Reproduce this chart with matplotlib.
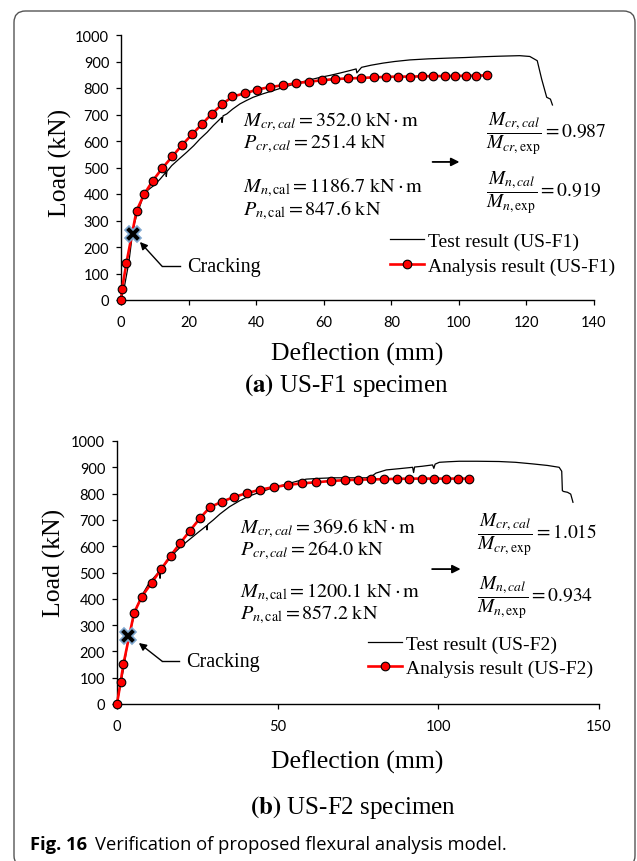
import matplotlib
matplotlib.use("Agg")
import matplotlib.pyplot as plt
from matplotlib.patches import FancyBboxPatch

plt.rcParams['font.family'] = ['Liberation Serif', 'DejaVu Serif']
plt.rcParams['mathtext.fontset'] = 'stix'

# ---- US-F1 data ----
f1_ana_d = [0, 0.3, 1.6, 4.6, 6.9, 9.4, 12.2, 15.2, 18.1, 21.1, 24.0, 26.9, 29.9, 33.0,
            36.8, 40.3, 44.2, 47.9, 51.8, 55.6, 59.5, 63.4, 67.3, 70.9, 74.8, 78.4, 82.0,
            85.5, 89.1, 92.4, 95.8, 98.9, 102.1, 105.2, 108.2]
f1_ana_p = [0, 40, 140, 337, 400, 450, 497, 542, 585, 626, 664, 703, 738, 768,
            780, 794, 804, 810, 818, 824, 829, 834, 836, 838, 840, 842, 843,
            843, 844, 845, 845, 846, 846, 847, 847.6]
f1_test_d = [0, 1.0, 2.3, 3.3, 4.0, 4.6, 5.5, 6.6, 8.0, 9.6, 11.5, 13.3, 13.4, 13.6, 15.0,
             17.0, 19.4, 21.5, 23.4, 25.5, 27.3, 29.8, 29.9, 30.2, 31.3, 33.0, 35.2, 37.0,
             39.1, 42.0, 45.0, 49.0, 53.0, 56.0, 58.9, 62.0, 65.0, 67.8, 69.6, 69.8, 71.2,
             74.0, 77.6, 81.0, 85.5, 91.0, 97.3, 102.0, 107.2, 112.0, 118.0, 121.0, 123.2,
             124.5, 126.0, 127.1, 127.7]
f1_test_p = [0, 50, 140, 240, 290, 318, 350, 394, 415, 431, 455, 482, 466, 485, 507,
             530, 557, 582, 608, 633, 658, 689, 670, 695, 702, 720, 740, 752,
             765, 778, 790, 806, 821, 831, 840, 848, 857, 866, 872, 857, 878,
             886, 894, 900, 906, 910, 913, 915, 918, 920, 922, 919, 903,
             834, 765, 758, 736]
f1_crack = (3.6, 249)

# ---- US-F2 data ----
f2_ana_d = [0, 1.1, 2.0, 5.3, 7.7, 10.8, 13.7, 16.7, 19.7, 22.7, 25.8, 28.9, 32.6, 36.4,
            40.5, 44.6, 48.9, 53.3, 57.5, 62.0, 66.5, 70.8, 75.0, 79.1, 83.2, 87.0, 91.0,
            94.9, 98.8, 102.4, 106.1, 109.6]
f2_ana_p = [0, 82, 152, 346, 408, 461, 512, 564, 612, 659, 706, 748, 769, 787,
            802, 815, 825, 833, 839, 843, 848, 851, 853, 854, 855, 856, 857,
            857, 857, 857, 857, 857.2]
f2_test_d = [0, 1.2, 2.3, 3.5, 5.0, 6.2, 7.7, 10.0, 13.3, 13.4, 13.6, 15.5, 17.5, 20.0,
             22.7, 25.3, 27.9, 28.0, 28.2, 30.0, 32.0, 35.0, 38.2, 41.0, 44.4, 48.5, 52.7,
             56.0, 58.9, 63.0, 67.2, 72.0, 77.5, 79.5, 80.6, 83.8, 88.0, 92.0, 92.3, 92.6,
             95.0, 98.2, 98.6, 99.0, 100.3, 103.0, 106.5, 112.0, 118.9, 124.0, 129.3, 134.0,
             137.6, 138.4, 138.6, 139.0, 140.2, 141.2, 141.9]
f2_test_p = [0, 80, 150, 250, 320, 370, 412, 460, 506, 478, 509, 540, 570, 600,
             627, 653, 678, 662, 682, 700, 722, 750, 773, 790, 805, 822, 836,
             847, 855, 858, 860, 860, 860, 868, 878, 890, 895, 900, 880, 901,
             904, 909, 896, 912, 919, 921, 923, 923, 922, 919, 913, 907,
             900, 885, 811, 808, 805, 798, 767]
f2_crack = (3.5, 260)

W, H = 637, 862
fig = plt.figure(figsize=(W / 100, H / 100), dpi=100)


def px_axes(l, r, t, b):
    return fig.add_axes([l / W, 1 - b / H, (r - l) / W, (b - t) / H])


def style_axes(ax, xmax, xstep):
    for s in ['top', 'right']:
        ax.spines[s].set_visible(False)
    for s in ['left', 'bottom']:
        ax.spines[s].set_linewidth(1.0)
    ax.set_xlim(0, xmax)
    ax.set_ylim(0, 1000)
    ax.set_xticks(range(0, xmax + 1, xstep))
    ax.set_yticks(range(0, 1001, 100))
    ax.tick_params(direction='out', length=3.5, width=0.9)
    ax.tick_params(axis='x', pad=7)
    ax.tick_params(axis='y', pad=5)
    for lab in ax.get_xticklabels() + ax.get_yticklabels():
        lab.set_fontfamily('Lato')
        lab.set_fontsize(10.5)
    ax.set_xlabel('Deflection (mm)', fontsize=18.5)
    ax.set_ylabel('Load (kN)', fontsize=18.5)


def draw_panel(ax, td, tp, ad, ap, crack, name):
    ax.plot(td, tp, color='black', lw=0.9, label='Test result (%s)' % name, zorder=3)
    ax.plot(ad, ap, color='red', lw=1.9, marker='o', ms=6.2, mfc='red', mec='black',
            mew=0.8, label='Analysis result (%s)' % name, zorder=4, clip_on=False)
    ax.plot([crack[0]], [crack[1]], marker='X', ms=12, mfc='black', mec='#7fa7cf',
            mew=1.2, zorder=6, clip_on=False)


ax1 = px_axes(121, 594, 36, 301)
style_axes(ax1, 140, 20)
draw_panel(ax1, f1_test_d, f1_test_p, f1_ana_d, f1_ana_p, f1_crack, 'US-F1')
ax1.yaxis.set_label_coords(-0.104, 0.52)
ax1.xaxis.set_label_coords(0.5, -0.158)

ax2 = px_axes(117, 599, 442, 705)
style_axes(ax2, 150, 50)
draw_panel(ax2, f2_test_d, f2_test_p, f2_ana_d, f2_ana_p, f2_crack, 'US-F2')
ax2.yaxis.set_label_coords(-0.106, 0.54)
ax2.xaxis.set_label_coords(0.499, -0.172)

mfs = 14.5
ffs = 14
# panel (a) annotations
ax1.text(36, 678, r'$M_{cr,cal}=352.0\ \mathrm{kN}\cdot\mathrm{m}$', fontsize=mfs, va='center')
ax1.text(36, 593, r'$P_{cr,cal}=251.4\ \mathrm{kN}$', fontsize=mfs, va='center')
ax1.text(36, 428, r'$M_{n,\mathrm{cal}}=1186.7\ \mathrm{kN}\cdot\mathrm{m}$', fontsize=mfs, va='center')
ax1.text(36, 342, r'$P_{n,\mathrm{cal}}=847.6\ \mathrm{kN}$', fontsize=mfs, va='center')
ax1.text(108, 630, r'$\dfrac{M_{cr,cal}}{M_{cr,\mathrm{exp}}}=0.987$', fontsize=ffs, va='center')
ax1.text(108, 408, r'$\dfrac{M_{n,cal}}{M_{n,\mathrm{exp}}}=0.919$', fontsize=ffs, va='center')
ax1.annotate('', xy=(101, 521), xytext=(91.4, 521),
             arrowprops=dict(arrowstyle='-|>', color='black', lw=1.3, mutation_scale=12))
ax1.plot([12.1, 17.6], [128, 128], color='black', lw=1.0)
ax1.annotate('', xy=(5.6, 219), xytext=(12.1, 128),
             arrowprops=dict(arrowstyle='-|>', color='black', lw=1.0, mutation_scale=11,
                             shrinkA=0, shrinkB=0))
ax1.text(19.5, 128, 'Cracking', fontsize=14.5, va='center')

# panel (b) annotations
ax2.text(38.2, 672, r'$M_{cr,cal}=369.6\ \mathrm{kN}\cdot\mathrm{m}$', fontsize=mfs, va='center')
ax2.text(38.2, 586, r'$P_{cr,cal}=264.0\ \mathrm{kN}$', fontsize=mfs, va='center')
ax2.text(38.2, 427, r'$M_{n,\mathrm{cal}}=1200.1\ \mathrm{kN}\cdot\mathrm{m}$', fontsize=mfs, va='center')
ax2.text(38.2, 345, r'$P_{n,\mathrm{cal}}=857.2\ \mathrm{kN}$', fontsize=mfs, va='center')
ax2.text(112, 646, r'$\dfrac{M_{cr,cal}}{M_{cr,\mathrm{exp}}}=1.015$', fontsize=ffs, va='center')
ax2.text(112, 407, r'$\dfrac{M_{n,cal}}{M_{n,\mathrm{exp}}}=0.934$', fontsize=ffs, va='center')
ax2.annotate('', xy=(107.8, 513), xytext=(97.2, 513),
             arrowprops=dict(arrowstyle='-|>', color='black', lw=1.3, mutation_scale=12))
ax2.plot([14, 19.3], [163, 163], color='black', lw=1.0)
ax2.annotate('', xy=(6.8, 232), xytext=(14, 163),
             arrowprops=dict(arrowstyle='-|>', color='black', lw=1.0, mutation_scale=11,
                             shrinkA=0, shrinkB=0))
ax2.text(21.4, 163, 'Cracking', fontsize=14.5, va='center')

for ax, bx, by in [(ax1, 0.569, 0.255), (ax2, 0.521, 0.262)]:
    ax.legend(loc='upper left', bbox_to_anchor=(bx, by), frameon=False, fontsize=14,
              handlelength=1.75, handletextpad=0.2, labelspacing=0.35, borderpad=0,
              borderaxespad=0)

# sub-captions
fig.text(346 / W, 1 - 386 / H, r'$\mathbf{(a)}$ US-F1 specimen', fontsize=18, ha='center', va='center')
fig.text(353 / W, 1 - 808 / H, r'$\mathbf{(b)}$ US-F2 specimen', fontsize=18, ha='center', va='center')

# figure caption
cap_fs = 13.2
t1 = fig.text(30 / W, 1 - 845 / H, 'Fig. 16', fontsize=cap_fs, fontweight='bold',
              family='Open Sans', va='center')
fig.canvas.draw()
bb = t1.get_window_extent()
fig.text((bb.x1 + 8) / W, 1 - 845 / H, 'Verification of proposed flexural analysis model.',
         fontsize=cap_fs, family='Open Sans', va='center')

# rounded frame
frame = FancyBboxPatch((14 / W, 1 - 868 / H), (635 - 14) / W, (868 - 12) / H,
                       boxstyle='round,pad=0,rounding_size=0.018', transform=fig.transFigure,
                       fill=False, ec='#555555', lw=1.0, mutation_aspect=W / H)
fig.patches.append(frame)

fig.savefig('out.png', dpi=100)
